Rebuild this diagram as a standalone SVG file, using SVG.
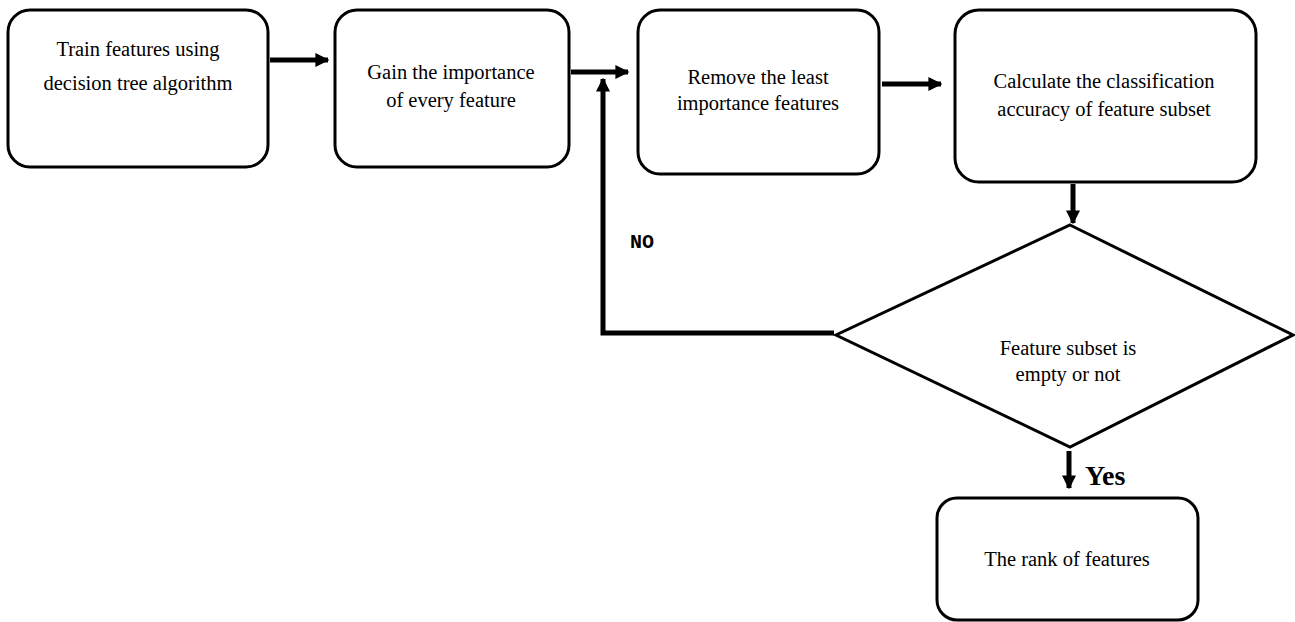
<svg xmlns="http://www.w3.org/2000/svg" width="1295" height="622" viewBox="0 0 1295 622">
<style>
.box{fill:#fff;stroke:#000;stroke-width:3}
.t{font-family:"Liberation Serif","Times New Roman",serif;font-size:20.5px;fill:#000;text-anchor:middle}
.c{fill:none;stroke:#000;stroke-width:5}
</style>
<defs>
<marker id="ah" viewBox="0 0 10 10" refX="9" refY="5" markerWidth="2.8" markerHeight="2.8" orient="auto" markerUnits="strokeWidth">
<path d="M0,0 L10,5 L0,10 z" fill="#000"/>
</marker>
</defs>
<rect width="1295" height="622" fill="#fff"/>
<g id="connectors">
<line class="c" x1="270" y1="60" x2="328" y2="60" marker-end="url(#ah)"/>
<line class="c" x1="571" y1="72" x2="628" y2="72" marker-end="url(#ah)"/>
<line class="c" x1="882" y1="84" x2="941" y2="84" marker-end="url(#ah)"/>
<line class="c" x1="1073" y1="184" x2="1073" y2="223" marker-end="url(#ah)"/>
<polyline class="c" points="834,333 603,333 603,79" marker-end="url(#ah)"/>
<line class="c" x1="1069" y1="451" x2="1069" y2="488" marker-end="url(#ah)"/>
<text x="630" y="248" style="font-family:'Liberation Mono','Courier New',monospace;font-weight:bold;font-size:20px">NO</text>
<text x="1085" y="485" style="font-family:'Liberation Serif','Times New Roman',serif;font-weight:bold;font-size:28px">Yes</text>
</g>
<g id="n1">
<rect class="box" x="8" y="10" width="260" height="157" rx="22"/>
<text class="t" x="138" y="56">Train features using</text>
<text class="t" x="138" y="90">decision tree algorithm</text>
</g>
<g id="n2">
<rect class="box" x="335" y="10" width="234" height="157" rx="22"/>
<text class="t" x="451" y="79">Gain the importance</text>
<text class="t" x="451" y="107">of every feature</text>
</g>
<g id="n3">
<rect class="box" x="638" y="10" width="241" height="164" rx="22"/>
<text class="t" x="758" y="84">Remove the least</text>
<text class="t" x="758" y="110">importance features</text>
</g>
<g id="n4">
<rect class="box" x="955" y="10" width="301" height="172" rx="24"/>
<text class="t" x="1104" y="88">Calculate the classification</text>
<text class="t" x="1104" y="116">accuracy of feature subset</text>
</g>
<g id="n5">
<polygon class="box" points="1070,225 1293,335 1070,447 836,335"/>
<text class="t" x="1068" y="355">Feature subset is</text>
<text class="t" x="1068" y="381">empty or not</text>
</g>
<g id="n6">
<rect class="box" x="937" y="498" width="261" height="122" rx="20"/>
<text class="t" x="1067" y="566">The rank of features</text>
</g>
</svg>
